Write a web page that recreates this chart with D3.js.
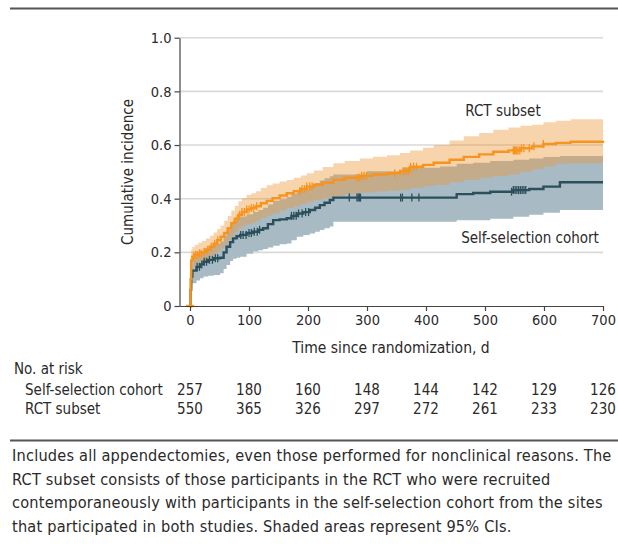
<!DOCTYPE html>
<html><head><meta charset="utf-8">
<script src="https://cdn.jsdelivr.net/npm/d3@7"></script>
<style>
html,body{margin:0;padding:0;background:#fff;}
svg{display:block;}
text{font-family:"DejaVu Sans Condensed","Liberation Sans Narrow","Roboto",sans-serif;fill:#2a2a2a;}
</style></head>
<body><div id="chart"></div>
<script>
// ---- data ----
const xTicks = [0,100,200,300,400,500,600,700];
const yTicks = [0,0.2,0.4,0.6,0.8,1.0];
const yTickLabels = ["0","0.2","0.4","0.6","0.8","1.0"];
const seriesNames = ["Self-selection cohort","RCT subset"];
const atRiskSelf = [257,180,160,148,144,142,129,126];
const atRiskRCT  = [550,365,326,297,272,261,233,230];

// RCT subset: time, estimate, lower, upper
const rctTime = [0,1,2,4,8,14,20,27,34,40,46,52,58,64,70,76,82,88,96,104,112,120,130,140,152,164,176,188,198,210,225,243,262,288,310,334,356,373,395,413,440,464,490,514,540,560,580,599,620,645,700];
const rctEst  = [0,0.10,0.17,0.184,0.19,0.196,0.20,0.21,0.221,0.232,0.245,0.258,0.272,0.29,0.309,0.325,0.34,0.35,0.36,0.365,0.372,0.383,0.392,0.402,0.412,0.42,0.428,0.436,0.445,0.452,0.46,0.47,0.478,0.485,0.49,0.495,0.503,0.519,0.526,0.534,0.545,0.556,0.565,0.575,0.58,0.588,0.595,0.604,0.608,0.612,0.616];
const rctLo   = [0,0.07,0.13,0.15,0.155,0.16,0.165,0.173,0.182,0.192,0.203,0.215,0.228,0.245,0.262,0.277,0.29,0.298,0.305,0.31,0.318,0.328,0.337,0.346,0.356,0.365,0.372,0.38,0.388,0.394,0.402,0.41,0.417,0.423,0.427,0.43,0.432,0.44,0.446,0.451,0.461,0.47,0.478,0.485,0.49,0.5,0.51,0.52,0.53,0.532,0.534];
const rctHi   = [0,0.14,0.21,0.22,0.228,0.236,0.242,0.252,0.262,0.274,0.287,0.30,0.318,0.335,0.356,0.373,0.39,0.402,0.414,0.42,0.428,0.44,0.45,0.457,0.464,0.47,0.478,0.486,0.495,0.505,0.518,0.532,0.54,0.55,0.556,0.562,0.57,0.58,0.59,0.60,0.617,0.633,0.645,0.657,0.665,0.672,0.676,0.685,0.69,0.696,0.698];
const rctCensor = [6,9,12,16,19,24,30,36,42,47,80,84,88,92,96,100,104,108,113,186,190,194,198,203,207,283,287,291,295,299,347,362,366,370,374,379,384,548,550,552,554,556,559,562,566,575,583,599];

// Self-selection cohort: time, estimate, lower, upper
const selfTime = [0,1,2,4,11,17,23,31,40,51,57,62,68,73,79,85,96,107,116,124,132,141,152,164,172,181,192,203,212,220,228,237,243,300,360,424,452,480,509,548,575,599,627,700];
const selfEst  = [0,0.06,0.11,0.132,0.146,0.155,0.165,0.172,0.178,0.18,0.20,0.221,0.238,0.252,0.26,0.265,0.272,0.277,0.284,0.29,0.305,0.32,0.323,0.327,0.336,0.345,0.35,0.358,0.366,0.376,0.385,0.395,0.404,0.404,0.404,0.404,0.417,0.421,0.426,0.432,0.436,0.445,0.461,0.461];
const selfLo   = [0,0.04,0.07,0.085,0.095,0.103,0.11,0.113,0.116,0.122,0.138,0.153,0.168,0.176,0.18,0.184,0.195,0.203,0.208,0.212,0.218,0.225,0.23,0.233,0.245,0.258,0.265,0.27,0.277,0.283,0.29,0.296,0.314,0.314,0.314,0.314,0.32,0.32,0.325,0.333,0.34,0.348,0.358,0.364];
const selfHi   = [0,0.09,0.15,0.18,0.195,0.205,0.215,0.225,0.232,0.24,0.262,0.285,0.305,0.318,0.328,0.334,0.342,0.35,0.358,0.366,0.378,0.392,0.398,0.406,0.418,0.43,0.438,0.448,0.458,0.468,0.476,0.484,0.49,0.502,0.515,0.52,0.53,0.534,0.54,0.545,0.55,0.555,0.559,0.559];
const selfCensor = [12,16,20,24,28,33,38,43,47,86,90,95,100,104,109,114,118,172,176,180,184,190,196,201,270,283,285,287,289,357,360,376,388,545,548,551,554,557,560,563,566,569];

const caption = [
  "Includes all appendectomies, even those performed for nonclinical reasons. The",
  "RCT subset consists of those participants in the RCT who were recruited",
  "contemporaneously with participants in the self-selection cohort from the sites",
  "that participated in both studies. Shaded areas represent 95% CIs."
];

// ---- drawing ----
const W = 618, H = 552;
const svg = d3.select("#chart").append("svg").attr("width", W).attr("height", H);

const x = d3.scaleLinear().domain([0,700]).range([190, 603]);
const y = d3.scaleLinear().domain([0,1]).range([306, 37.7]);
const axisX = 179.5;

// frame lines
svg.append("line").attr("x1",10).attr("x2",618).attr("y1",8.5).attr("y2",8.5).attr("stroke","#555").attr("stroke-width",2);
svg.append("line").attr("x1",10).attr("x2",618).attr("y1",440.5).attr("y2",440.5).attr("stroke","#555").attr("stroke-width",2);

// gridlines
svg.append("g").selectAll("line").data(yTicks.filter(d=>d>0)).join("line")
  .attr("x1", axisX).attr("x2", 603).attr("y1", d=>y(d)).attr("y2", d=>y(d))
  .attr("stroke","#d9d9d9").attr("stroke-width",1.6);

function mk(time, est, lo, hi){ return time.map((t,i)=>({t, e:est[i], l:lo[i], h:hi[i]})); }
const self = mk(selfTime, selfEst, selfLo, selfHi);
const rct = mk(rctTime, rctEst, rctLo, rctHi);

const area = d3.area().curve(d3.curveStepAfter).x(d=>x(d.t)).y0(d=>y(d.l)).y1(d=>y(d.h));
const line = d3.line().curve(d3.curveStepAfter).x(d=>x(d.t)).y(d=>y(d.e));

svg.append("path").datum(self.slice(1)).attr("d", area).attr("fill","#a8bbc5");
svg.append("path").datum(rct.slice(1)).attr("d", area).attr("fill","rgba(238,148,48,0.40)");

function stepVal(time, est, t){ let v=0; for(let i=0;i<time.length;i++){ if(time[i]<=t) v=est[i]; } return v; }

const blue = "#2b4f5b", orange = "#f7941d";
svg.append("path").datum(self).attr("d", line).attr("fill","none").attr("stroke",blue).attr("stroke-width",2.4);
svg.append("g").selectAll("line").data(selfCensor).join("line")
  .attr("x1",d=>x(d)).attr("x2",d=>x(d))
  .attr("y1",d=>y(stepVal(selfTime,selfEst,d))-4).attr("y2",d=>y(stepVal(selfTime,selfEst,d))+4)
  .attr("stroke",blue).attr("stroke-width",1.3);

svg.append("path").datum(rct).attr("d", line).attr("fill","none").attr("stroke",orange).attr("stroke-width",2.4);
svg.append("g").selectAll("line").data(rctCensor).join("line")
  .attr("x1",d=>x(d)).attr("x2",d=>x(d))
  .attr("y1",d=>y(stepVal(rctTime,rctEst,d))-4).attr("y2",d=>y(stepVal(rctTime,rctEst,d))+4)
  .attr("stroke",orange).attr("stroke-width",1.3);
// base mark at origin
svg.append("line").attr("x1",x(-7)).attr("x2",x(7)).attr("y1",y(0)).attr("y2",y(0)).attr("stroke",orange).attr("stroke-width",2.4);

// axes
const gy = svg.append("g").attr("transform",`translate(${axisX},0)`)
  .call(d3.axisLeft(y).tickValues(yTicks).tickFormat((d,i)=>yTickLabels[i]).tickSize(5).tickPadding(3).tickSizeOuter(0));
gy.select(".domain").attr("stroke","#444").attr("stroke-width",1.2);
gy.selectAll(".tick line").attr("stroke","#444").attr("stroke-width",1.2);
gy.selectAll(".tick text").attr("font-size",14.5).attr("font-family",null).style("fill","#2a2a2a");

const gx = svg.append("g").attr("transform",`translate(0,306)`)
  .call(d3.axisBottom(x).tickValues(xTicks).tickSize(5).tickPadding(4).tickSizeOuter(0));
gx.select(".domain").remove();
gx.append("line").attr("x1",axisX).attr("x2",603).attr("y1",0.5).attr("y2",0.5).attr("stroke","#444").attr("stroke-width",1.2);
gx.selectAll(".tick line").attr("stroke","#444").attr("stroke-width",1.2);
gx.selectAll(".tick text").attr("font-size",14.5).attr("font-family",null).style("fill","#2a2a2a");

// axis titles
svg.append("text").attr("transform","translate(133,172) rotate(-90)").attr("text-anchor","middle")
  .attr("font-size",15).text("Cumulative incidence");
svg.append("text").attr("x",391).attr("y",353).attr("text-anchor","middle").attr("font-size",15.5).text("Time since randomization, d");

// series labels
svg.append("text").attr("x",503).attr("y",116).attr("text-anchor","middle").attr("font-size",15).text(seriesNames[1]);
svg.append("text").attr("x",530).attr("y",243).attr("text-anchor","middle").attr("font-size",15).text(seriesNames[0]);

// at risk
svg.append("text").attr("x",14).attr("y",374).attr("font-size",15).text("No. at risk");
svg.append("text").attr("x",25).attr("y",395).attr("font-size",15).text(seriesNames[0]);
svg.append("text").attr("x",25).attr("y",414).attr("font-size",15).text(seriesNames[1]);
svg.append("g").selectAll("text").data(atRiskSelf).join("text")
  .attr("x",(d,i)=>x(xTicks[i])).attr("y",395).attr("text-anchor","middle").attr("font-size",15).text(d=>d);
svg.append("g").selectAll("text").data(atRiskRCT).join("text")
  .attr("x",(d,i)=>x(xTicks[i])).attr("y",414).attr("text-anchor","middle").attr("font-size",15).text(d=>d);

// caption
svg.append("g").selectAll("text").data(caption).join("text")
  .attr("x",12).attr("y",(d,i)=>461+i*23.5).attr("font-size",16.2).attr("letter-spacing",0.2).text(d=>d);
</script></body></html>
